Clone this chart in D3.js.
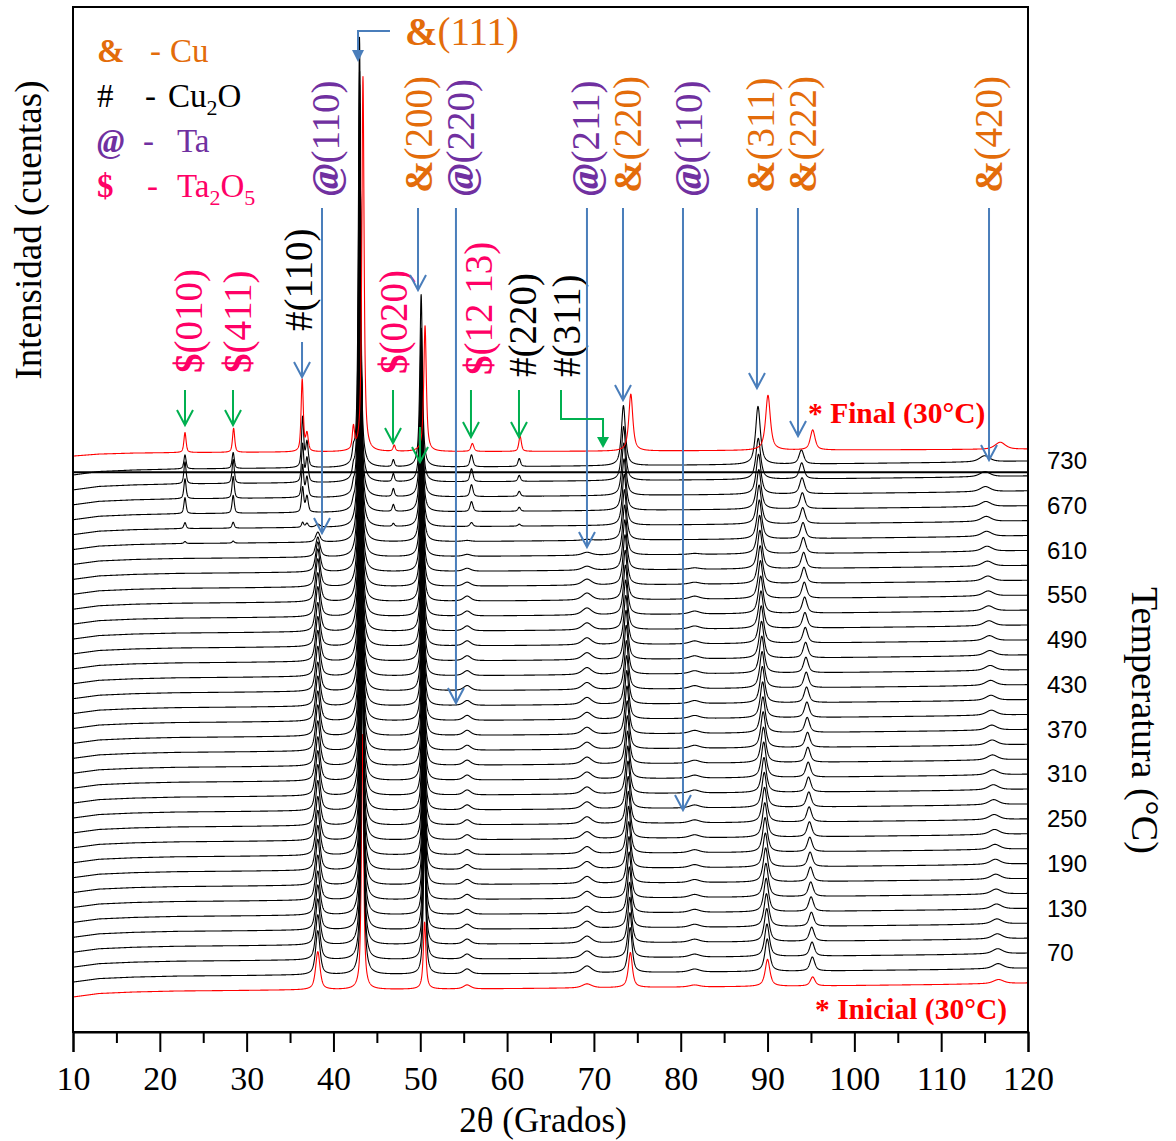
<!DOCTYPE html>
<html>
<head>
<meta charset="utf-8">
<script src="https://cdn.jsdelivr.net/npm/d3@7"></script>
<style>
  body { margin: 0; background: #fff; }
  svg { display: block; }
</style>
</head>
<body>
<svg id="chart" width="1176" height="1141"></svg>
<script>
// ---------------------------------------------------------------
// In-situ XRD heating run of a Cu / Ta film: one pattern every 20 °C
// ---------------------------------------------------------------
const temps = [30, 50, 70, 90, 110, 130, 150, 170, 190, 210, 230, 250, 270, 290,
               310, 330, 350, 370, 390, 410, 430, 450, 470, 490, 510, 530, 550,
               570, 590, 610, 630, 650, 670, 690, 710, 730];
const tempTicks = [70, 130, 190, 250, 310, 370, 430, 490, 550, 610, 670, 730];
const twoThetaTicks = [10, 20, 30, 40, 50, 60, 70, 80, 90, 100, 110, 120];
const twoThetaMinor = [15, 25, 35, 45, 55, 65, 75, 85, 95, 105, 115];

// Stack level of the pattern re-measured at 30 °C after cooling, and of the divider line
const finalLevel = 746;
const dividerLevel = 715;

// Reflections: 2θ at 30 °C and at 730 °C (thermal expansion shift), FWHM and Lorentz fraction
const reflNames = ["Ta2O5(010)", "Ta2O5(411)", "Cu2O(a)", "Cu2O(b)", "Ta(110)", "Cu2O(200)",
                   "Cu(111)", "Ta2O5(020)", "Cu(200)", "Ta(200)", "Ta2O5(12 13)", "Cu2O(220)",
                   "Ta(211)", "Cu(220)", "Ta(220)", "Cu(311)", "Cu(222)", "Cu(420)"];
const reflPos30  = [22.9, 28.45, 36.45, 36.95, 38.2, 42.3, 43.35, 46.9, 50.5, 55.4, 55.9, 61.4,
                    69.2, 74.2, 81.6, 90.0, 95.2, 116.6];
const reflPos730 = [22.9, 28.45, 36.45, 36.95, 38.2, 42.3, 43.0, 46.9, 50.1, 55.4, 55.9, 61.4,
                    69.2, 73.4, 81.6, 88.9, 93.9, 115.0];
const reflFwhm = [0.3, 0.3, 0.3, 0.35, 0.6, 0.3, 0.3, 0.3, 0.35, 1.0, 0.4, 0.35,
                  1.3, 0.55, 1.4, 0.65, 0.65, 1.4];
const reflEta  = [0.6, 0.6, 0.6, 0.6, 0.7, 0.6, 0.8, 0.6, 0.8, 0.6, 0.6, 0.6,
                  0.6, 0.8, 0.6, 0.8, 0.7, 0.6];

// Peak heights (cuentas) of every reflection, one value per sweep temperature
const hTa2O5_010 = [0,0,0,0,0,0,0,0,0,0,0,0,0,0,0,0,0,0,0,0,0,0,0,0,0,0,0,0,0,0, 8,24,64,80,88,56];
const hTa2O5_411 = [0,0,0,0,0,0,0,0,0,0,0,0,0,0,0,0,0,0,0,0,0,0,0,0,0,0,0,0,0,0, 8,24,72,88,96,64];
const hCu2O_a    = [0,0,0,0,0,0,0,0,0,0,0,0,0,0,0,0,0,0,0,0,0,0,0,0,0,0,0,0,0,0, 0,20,100,128,152,200];
const hCu2O_b    = [0,0,0,0,0,0,0,0,0,0,0,0,0,0,0,0,0,0,0,0,0,0,0,0,0,0,0,0,0,0, 0,16,64,80,96,100];
const hTa_110    = [152,176,180,184,180,176,180,184,180,180,176,180,184,180,176,180,184,180,
                    180,176,180,184,180,176,180,176,172,152,120,80,40,12,0,0,0,0];
const hCu2O_200  = [0,0,0,0,0,0,0,0,0,0,0,0,0,0,0,0,0,0,0,0,0,0,0,0,0,0,0,0,0,0, 0,0,16,24,32,40];
const hCu_111    = [1024,1520,1520,1530,1530,1540,1540,1540,1550,1550,1560,1560,1560,1570,
                    1570,1570,1580,1580,1580,1590,1590,1600,1600,1600,1610,1610,1620,1620,
                    1620,1630,1630,1640,1640,1650,1650,1720];
const hTa2O5_020 = [0,0,0,0,0,0,0,0,0,0,0,0,0,0,0,0,0,0,0,0,0,0,0,0,0,0,0,0,0,0, 0,12,28,32,32,28];
const hCu_200    = [268,520,520,524,528,528,532,536,536,540,540,544,548,548,552,556,556,560,
                    560,564,568,568,572,576,576,580,584,584,588,592,596,600,604,608,616,690];
const hTa_200    = [16,20,20,20,20,20,20,20,20,20,20,20,20,20,20,20,20,20,20,20,20,20,20,20,20,
                    20,20,16,12,8,4,0,0,0,0,0];
const hTa2O5_1213= [0,0,0,0,0,0,0,0,0,0,0,0,0,0,0,0,0,0,0,0,0,0,0,0,0,0,0,0,0,0, 0,16,40,48,52,48];
const hCu2O_220  = [0,0,0,0,0,0,0,0,0,0,0,0,0,0,0,0,0,0,0,0,0,0,0,0,0,0,0,0,0,0, 0,8,16,20,24,32];
const hTa_211    = [16,28,28,28,28,28,28,28,28,28,28,28,28,28,28,28,28,28,28,28,28,28,28,28,28,
                    28,28,24,16,12,4,0,0,0,0,0];
const hCu_220    = [140,180,180,182,182,184,184,186,186,188,188,188,190,190,190,192,192,192,
                    194,194,194,196,196,196,198,198,198,200,200,200,202,204,206,210,216,240];
const hTa_220    = [8,12,12,12,12,12,12,12,12,12,12,12,12,12,12,12,12,12,12,12,12,12,12,12,12,
                    12,12,8,6,4,0,0,0,0,0,0];
const hCu_311    = [108,130,130,132,132,134,134,136,136,138,138,140,140,140,142,142,144,144,
                    144,146,146,148,148,150,150,150,152,152,154,154,156,156,158,160,164,232];
const hCu_222    = [36,56,56,56,56,58,58,58,58,58,60,60,60,60,60,60,60,60,62,62,62,62,62,62,
                    62,64,64,64,64,64,64,64,64,64,64,56];
const hCu_420    = [16,20,20,20,20,20,20,20,20,20,20,20,20,20,20,20,20,20,20,20,20,20,20,20,20,
                    20,20,20,20,20,20,20,20,20,20,24];

// Pattern measured at 30 °C after cooling (positions and heights per reflection)
const finalPos = [22.9, 28.5, 36.4, 36.95, 38.2, 42.3, 43.4, 47.0, 50.55, 55.4, 56.0, 61.5,
                  69.2, 74.25, 81.6, 90.05, 95.2, 116.8];
const finalHeights = [80, 96, 288, 70, 0, 88, 1500, 24, 504, 0, 32, 60, 0, 228, 0, 220, 80, 28];

// Backgrounds (cuentas), rising towards high angle: heating sweep and final pattern
const bgAngles = [10, 13, 17, 22, 35, 55, 75, 95, 110, 120];
const bgCounts = [0, 14, 20, 24, 28, 32, 38, 44, 50, 56];
const bgCountsFinal = [0, 8, 12, 14, 16, 18, 20, 24, 26, 28];

const heightTable = [hTa2O5_010, hTa2O5_411, hCu2O_a, hCu2O_b, hTa_110, hCu2O_200, hCu_111,
                     hTa2O5_020, hCu_200, hTa_200, hTa2O5_1213, hCu2O_220, hTa_211, hCu_220,
                     hTa_220, hCu_311, hCu_222, hCu_420];

// ---------------------------------------------------------------
const COL = {
  cu: "#E36C0A", cu2o: "#000000", ta: "#7030A0", ta2o5: "#FF0066",
  blue: "#4A7EBB", green: "#00B050", red: "#FF0000"
};
const SERIF = "'Liberation Serif', 'Times New Roman', serif";
const SANS = "'Liberation Sans', Arial, sans-serif";

const svg = d3.select("#chart");
const plot = { left: 73, right: 1028, top: 7, bottom: 1032 };

const x = d3.scaleLinear().domain([10, 120]).range([plot.left, plot.right]);
// stack level of each pattern, taken at its high-angle end (120°)
const level = d3.scaleLinear().domain([30, 730]).range([983, 461]);
const counts = d3.scaleLinear().domain([0, 1000]).range([0, 250]);
const bgSweep = d3.scaleLinear().domain(bgAngles).range(bgCounts);
const bgFinal = d3.scaleLinear().domain(bgAngles).range(bgCountsFinal);

const grid = d3.range(10, 120.0001, 0.02);

function pseudoVoigt(a, c, fwhm, eta) {
  const u = (a - c) / (fwhm / 2);
  return eta / (1 + u * u) + (1 - eta) * Math.exp(-Math.LN2 * u * u);
}

// intensity relative to the pattern's value at 120°
function buildPattern(positions, heights, background) {
  const ref = background(120);
  return grid.map(a => {
    let s = background(a) - ref;
    for (let k = 0; k < positions.length; k++) {
      const h = heights[k];
      if (!h) continue;
      const w = reflFwhm[k];
      if (Math.abs(a - positions[k]) > 40 * w) continue;
      s += h * pseudoVoigt(a, positions[k], w, reflEta[k]);
    }
    return [a, s];
  });
}

const shiftScales = reflPos30.map((p, k) =>
  d3.scaleLinear().domain([30, 730]).range([p, reflPos730[k]]));

const patterns = temps.map((T, i) => ({
  level: T,
  color: i === 0 ? COL.red : "#000",
  data: buildPattern(shiftScales.map(s => s(T)), heightTable.map(h => h[i]), bgSweep)
}));
patterns.push({ level: finalLevel, color: COL.red, data: buildPattern(finalPos, finalHeights, bgFinal) });

// clip to frame
svg.append("defs").append("clipPath").attr("id", "plotClip")
  .append("rect").attr("x", plot.left).attr("y", plot.top)
  .attr("width", plot.right - plot.left).attr("height", plot.bottom - plot.top);

const gTraces = svg.append("g").attr("clip-path", "url(#plotClip)");
patterns.forEach(p => {
  const line = d3.line().x(d => x(d[0])).y(d => level(p.level) - counts(d[1]));
  gTraces.append("path")
    .attr("d", line(p.data))
    .attr("fill", "none")
    .attr("stroke", p.color)
    .attr("stroke-width", 1.1)
    .attr("stroke-linejoin", "round");
});

// divider between heating sweep and final pattern
gTraces.append("line")
  .attr("x1", plot.left).attr("x2", plot.right)
  .attr("y1", level(dividerLevel)).attr("y2", level(dividerLevel))
  .attr("stroke", "#000").attr("stroke-width", 2);

// frame
svg.append("rect")
  .attr("x", plot.left).attr("y", plot.top)
  .attr("width", plot.right - plot.left).attr("height", plot.bottom - plot.top)
  .attr("fill", "none").attr("stroke", "#000").attr("stroke-width", 2);

// bottom axis
const xAxis = d3.axisBottom(x).tickValues(twoThetaTicks).tickSize(20).tickPadding(14)
  .tickFormat(d3.format("d"));
const gx = svg.append("g").attr("transform", `translate(0,${plot.bottom})`).call(xAxis);
gx.select(".domain").attr("stroke-width", 2);
gx.selectAll(".tick line").attr("stroke-width", 2);
gx.selectAll(".tick text").attr("font-family", SERIF).attr("font-size", 34).attr("fill", "#000");
const gxMinor = svg.append("g").attr("transform", `translate(0,${plot.bottom})`)
  .call(d3.axisBottom(x).tickValues(twoThetaMinor).tickSize(11).tickFormat(""));
gxMinor.select(".domain").remove();
gxMinor.selectAll(".tick line").attr("stroke-width", 2);

svg.append("text")
  .attr("x", 543).attr("y", 1132)
  .attr("text-anchor", "middle")
  .attr("font-family", SERIF).attr("font-size", 35)
  .text("2θ (Grados)");

// temperature axis (labels only)
const tAxis = d3.axisRight(level).tickValues(tempTicks).tickSize(0).tickPadding(19);
const gt = svg.append("g").attr("transform", `translate(${plot.right},0)`).call(tAxis);
gt.select(".domain").remove();
gt.selectAll(".tick text").attr("font-family", SANS).attr("font-size", 24).attr("fill", "#000");

svg.append("text")
  .attr("transform", "translate(1145,587) rotate(90)")
  .attr("dominant-baseline", "central")
  .attr("font-family", SERIF).attr("font-size", 38)
  .text("Temperatura (°C)");

svg.append("text")
  .attr("transform", "translate(28,230) rotate(-90)")
  .attr("text-anchor", "middle")
  .attr("dominant-baseline", "central")
  .attr("font-family", SERIF).attr("font-size", 37)
  .text("Intensidad (cuentas)");

// ---------------------------------------------------------------
// Phase legend
const legendRows = [
  { y: 62,  sym: "&", symWeight: "bold", symStyle: "normal", color: COL.cu,    dashX: 150, nameX: 170, name: [["Cu", false]] },
  { y: 107, sym: "#", symWeight: "normal", symStyle: "normal", color: COL.cu2o, dashX: 145, nameX: 168, name: [["Cu", false], ["2", true], ["O", false]] },
  { y: 152, sym: "@", symWeight: "bold", symStyle: "italic", color: COL.ta,    dashX: 143, nameX: 177, name: [["Ta", false]] },
  { y: 197, sym: "$", symWeight: "bold", symStyle: "normal", color: COL.ta2o5, dashX: 147, nameX: 177, name: [["Ta", false], ["2", true], ["O", false], ["5", true]] }
];
const gLegend = svg.append("g").attr("font-family", SERIF).attr("font-size", 33);
legendRows.forEach(r => {
  gLegend.append("text").attr("x", 97).attr("y", r.y).attr("fill", r.color)
    .attr("font-weight", r.symWeight).attr("font-style", r.symStyle).text(r.sym);
  gLegend.append("text").attr("x", r.dashX).attr("y", r.y).attr("fill", r.color).text("-");
  const t = gLegend.append("text").attr("x", r.nameX).attr("y", r.y).attr("fill", r.color);
  let sub = false;
  r.name.forEach(([s, isSub]) => {
    const ts = t.append("tspan").text(s);
    if (isSub && !sub) { ts.attr("dy", 8).attr("font-size", 22); sub = true; }
    else if (isSub && sub) { ts.attr("font-size", 22); }
    else if (!isSub && sub) { ts.attr("dy", -8); sub = false; }
  });
});

// ---------------------------------------------------------------
// Reflection annotations
const phaseStyle = {
  "&": { color: COL.cu, weight: "bold", style: "normal" },
  "#": { color: COL.cu2o, weight: "normal", style: "normal" },
  "@": { color: COL.ta, weight: "bold", style: "italic" },
  "$": { color: COL.ta2o5, weight: "bold", style: "normal" }
};
const peakLabels = [
  { sym: "@", hkl: "(110)",   at: 39.0,  bottom: 196 },
  { sym: "&", hkl: "(200)",   at: 49.74, bottom: 193 },
  { sym: "@", hkl: "(220)",   at: 54.58, bottom: 196 },
  { sym: "@", hkl: "(211)",   at: 68.97, bottom: 196 },
  { sym: "&", hkl: "(220)",   at: 73.81, bottom: 193 },
  { sym: "@", hkl: "(110)",   at: 80.84, bottom: 196 },
  { sym: "&", hkl: "(311)",   at: 89.13, bottom: 193 },
  { sym: "&", hkl: "(222)",   at: 93.97, bottom: 193 },
  { sym: "&", hkl: "(420)",   at: 115.39, bottom: 193 },
  { sym: "$", hkl: "(010)",   at: 23.25, bottom: 373 },
  { sym: "$", hkl: "(411)",   at: 28.89, bottom: 373 },
  { sym: "#", hkl: "(110)",   at: 35.92, bottom: 331 },
  { sym: "$", hkl: "(020)",   at: 46.86, bottom: 374 },
  { sym: "$", hkl: "(12 13)", at: 56.65, bottom: 375 },
  { sym: "#", hkl: "(220)",   at: 61.72, bottom: 377 },
  { sym: "#", hkl: "(311)",   at: 66.79, bottom: 377 }
];
const gLabels = svg.append("g").attr("font-family", SERIF).attr("font-size", 39);
peakLabels.forEach(l => {
  const st = phaseStyle[l.sym];
  const t = gLabels.append("text")
    .attr("transform", `translate(${x(l.at)},${l.bottom}) rotate(-90)`)
    .attr("dominant-baseline", "central")
    .attr("fill", st.color);
  t.append("tspan").attr("font-weight", st.weight).attr("font-style", st.style).text(l.sym);
  t.append("tspan").text(l.hkl);
});
// Cu(111) label, written horizontally
const t111 = gLabels.append("text").attr("x", 405).attr("y", 45).attr("fill", COL.cu);
t111.append("tspan").attr("font-weight", "bold").text("&");
t111.append("tspan").text("(111)");

// arrows: vertical shaft with an open head
const arrows = [
  { at: 38.68, y0: 208, y1: 533, color: COL.blue },
  { at: 49.74, y0: 208, y1: 290, color: COL.blue },
  { at: 54.11, y0: 208, y1: 703, color: COL.blue },
  { at: 69.20, y0: 208, y1: 547, color: COL.blue },
  { at: 73.35, y0: 208, y1: 400, color: COL.blue },
  { at: 80.26, y0: 208, y1: 810, color: COL.blue },
  { at: 88.78, y0: 208, y1: 388, color: COL.blue },
  { at: 93.51, y0: 208, y1: 436, color: COL.blue },
  { at: 115.51, y0: 208, y1: 460, color: COL.blue },
  { at: 36.38, y0: 342, y1: 377, color: COL.blue },
  { at: 22.90, y0: 390, y1: 425, color: COL.green },
  { at: 28.43, y0: 390, y1: 425, color: COL.green },
  { at: 46.86, y0: 390, y1: 443, color: COL.green },
  { at: 55.84, y0: 390, y1: 437, color: COL.green },
  { at: 61.37, y0: 390, y1: 437, color: COL.green },
  { at: 49.97, y0: 427, y1: 462, color: COL.green }
];
const gArrows = svg.append("g").attr("fill", "none").attr("stroke-width", 2)
  .attr("stroke-linecap", "butt");
arrows.forEach(a => {
  const xa = x(a.at);
  gArrows.append("path")
    .attr("d", `M${xa},${a.y0}V${a.y1}M${xa - 8},${a.y1 - 15}L${xa},${a.y1}L${xa + 8},${a.y1 - 15}`)
    .attr("stroke", a.color);
});

// elbow arrows with solid heads
const elbows = [
  { pts: [[46.51, 31], [42.83, 31], [42.83, 50]], tip: 62, color: COL.blue },
  { pts: [[66.21, 390], [66.21, 419], [71.05, 419], [71.05, 437]], tip: 448, color: COL.green }
];
elbows.forEach(e => {
  gArrows.append("path")
    .attr("d", d3.line().x(p => x(p[0])).y(p => p[1])(e.pts))
    .attr("stroke", e.color);
  const last = e.pts[e.pts.length - 1];
  const xt = x(last[0]);
  svg.append("path")
    .attr("d", `M${xt - 6},${last[1]}L${xt + 6},${last[1]}L${xt},${e.tip}Z`)
    .attr("fill", e.color);
});

// run labels
svg.append("text").attr("x", 808).attr("y", 423)
  .attr("font-family", SERIF).attr("font-size", 29.5).attr("font-weight", "bold")
  .attr("fill", COL.red).text("* Final (30°C)");
svg.append("text").attr("x", 815).attr("y", 1019)
  .attr("font-family", SERIF).attr("font-size", 29.5).attr("font-weight", "bold")
  .attr("fill", COL.red).text("* Inicial (30°C)");
</script>
</body>
</html>
